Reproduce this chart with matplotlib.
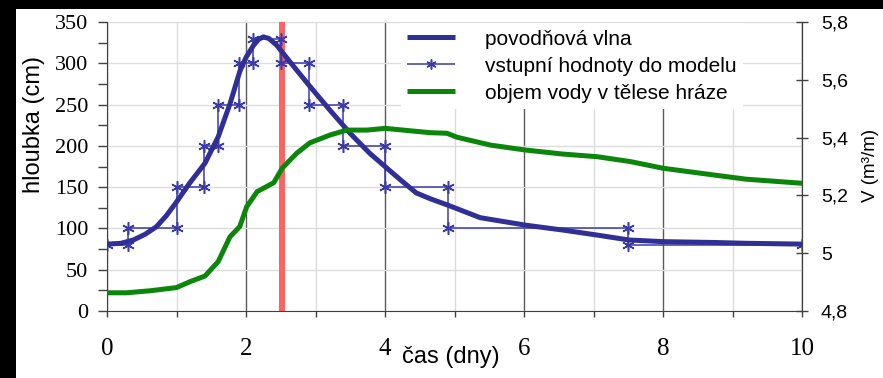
import matplotlib
matplotlib.use('Agg')

import matplotlib.pyplot as plt
from matplotlib.patches import Rectangle
from matplotlib.ticker import MultipleLocator

# povodňová vlna (hloubka v cm)
vlna_x = [0, 0.2, 0.38, 0.55, 0.71, 0.85, 1.0, 1.19, 1.41, 1.6, 1.77, 1.91, 2.0,
          2.11, 2.18, 2.25, 2.33, 2.44, 2.63, 2.92, 3.21, 3.5, 3.78, 4.0, 4.22,
          4.45, 4.65, 4.91, 5.37, 6.02, 6.56, 7.05, 7.51, 8.0, 8.72, 9.2, 10.0]
vlna_h = [81, 82, 86, 93, 102, 115, 132, 155, 179, 211, 251, 290, 307,
          322, 329, 332, 330, 322, 302, 272, 243, 215, 191, 175, 159,
          143, 136, 128, 113, 104, 98, 92, 86, 84, 83, 82, 81]

# vstupní hodnoty do modelu (schodovitě)
vstup_x = [0, 0.3, 0.3, 1.0, 1.0, 1.4, 1.4, 1.6, 1.6, 1.9, 1.9, 2.1, 2.1, 2.5,
           2.5, 2.9, 2.9, 3.4, 3.4, 4.0, 4.0, 4.9, 4.9, 7.5, 7.5, 10.0]
vstup_h = [80, 80, 100, 100, 150, 150, 200, 200, 250, 250, 300, 300, 330, 330,
           300, 300, 250, 250, 200, 200, 150, 150, 100, 100, 80, 80]

# objem vody v tělese hráze (m3/m)
objem_x = [0, 0.28, 0.62, 1.0, 1.19, 1.41, 1.6, 1.77, 1.91, 2.01, 2.16, 2.4, 2.52,
           2.73, 2.92, 3.21, 3.45, 3.74, 4.0, 4.65, 4.89, 5.04, 5.52, 6.02, 6.56,
           7.05, 7.53, 8.0, 8.72, 9.2, 10.0]
objem_v = [4.863, 4.863, 4.870, 4.881, 4.901, 4.921, 4.971, 5.057, 5.092, 5.161,
           5.213, 5.244, 5.294, 5.346, 5.382, 5.409, 5.426, 5.426, 5.432, 5.417,
           5.415, 5.401, 5.374, 5.357, 5.343, 5.334, 5.317, 5.294, 5.271, 5.256,
           5.242]

x_ticks = [0, 2, 4, 6, 8, 10]
h_ticks = [0, 50, 100, 150, 200, 250, 300, 350]
v_ticks = [4.8, 5.0, 5.2, 5.4, 5.6, 5.8]
v_labels = ['4,8', '5', '5,2', '5,4', '5,6', '5,8']
cas_rez = 2.515  # červená svislá čára

modra = '#2f2f96'
zelena = '#0b860b'
serif = 'Liberation Serif'
sans = 'Liberation Sans'

fig = plt.figure(figsize=(8.83, 3.78), dpi=100)
fig.patch.set_facecolor('white')

# cerne okraje obrazku
fig.add_artist(Rectangle((0, 1 - 9 / 378), 1, 9 / 378, transform=fig.transFigure,
                         facecolor='black', edgecolor='none', zorder=-9))
fig.add_artist(Rectangle((0, 0), 16 / 883, 1, transform=fig.transFigure,
                         facecolor='black', edgecolor='none', zorder=-9))

ax = fig.add_axes([107 / 883, 1 - 311 / 378, 695 / 883, 289 / 378])
ax2 = ax.twinx()

ax.set_xlim(0, 10)
ax.set_ylim(0, 350)
ax2.set_ylim(4.8, 5.8)

ax.axvspan(cas_rez - 0.045, cas_rez + 0.045, color='#ff6262', zorder=1, lw=0)

l1, = ax.plot(vlna_x, vlna_h, color=modra, lw=3.6, zorder=4,
              solid_capstyle='round', solid_joinstyle='round',
              label='povodňová vlna')
l2, = ax.plot(vstup_x, vstup_h, color='#3a3aa8', lw=1.1, marker=(6, 2, 0),
              markersize=9, markeredgewidth=1.1, zorder=3,
              label='vstupní hodnoty do modelu')
l3, = ax2.plot(objem_x, objem_v, color=zelena, lw=3.6, zorder=4,
               solid_joinstyle='round', label='objem vody v tělese hráze')

# mrizka
ax.set_axisbelow(True)
ax.set_xticks(x_ticks)
ax.xaxis.set_minor_locator(MultipleLocator(1))
ax.set_yticks(h_ticks)
ax.yaxis.set_minor_locator(MultipleLocator(25))
ax.grid(True, which='major', axis='x', color='#5a5a5a', lw=1.0)
ax.grid(True, which='minor', axis='x', color='#dcdcdc', lw=1.0)
ax.grid(True, which='major', axis='y', color='#dcdcdc', lw=1.0)

ax.spines['top'].set_visible(False)
ax2.spines['top'].set_visible(False)
ax.spines['left'].set_color('#404040')
ax.spines['bottom'].set_color('#404040')
ax2.spines['right'].set_color('#404040')
ax2.spines['left'].set_visible(False)
ax2.spines['bottom'].set_visible(False)

ax.tick_params(axis='y', which='both', direction='out', length=6.5, width=1,
               color='#404040', pad=7)
ax.tick_params(axis='x', which='both', direction='out', length=4.5, width=1,
               color='#404040', pad=15)
for t in ax.get_yticklabels():
    t.set_fontfamily(serif)
    t.set_fontsize(16)
for t in ax.get_xticklabels():
    t.set_fontfamily(serif)
    t.set_fontsize(18)

ax2.set_yticks(v_ticks)
ax2.set_yticklabels(v_labels, fontfamily=sans, fontsize=14)
ax2.tick_params(axis='y', direction='inout', length=9, width=1,
                color='#404040', pad=9)

ax.set_ylabel('hloubka (cm)', fontfamily=sans, fontsize=17, va='center')
ax.yaxis.set_label_coords(-0.105, 0.647)
ax.set_xlabel('čas (dny)', fontfamily=sans, fontsize=17, va='center')
ax.xaxis.set_label_coords(0.495, -0.16)
ax2.set_ylabel('V (m³/m)', fontfamily=sans, fontsize=13.5, rotation=90, va='center')
ax2.yaxis.set_label_coords(1.098, 0.505)

leg = ax2.legend(handles=[l1, l2, l3], loc='upper left',
                 bbox_to_anchor=(0.423, 0.995), frameon=True,
                 prop={'family': sans, 'size': 15}, handlelength=2.3,
                 handletextpad=1.45, labelspacing=0.38, borderpad=0.3,
                 borderaxespad=0, markerscale=0.8)
leg.get_frame().set_edgecolor('none')
leg.get_frame().set_facecolor('white')
leg.get_frame().set_alpha(1)
leg.get_frame().set_boxstyle('square', pad=0)
for h in leg.legend_handles:
    h.set_solid_capstyle('butt')

fig.savefig('out.png', dpi=100, facecolor='white')
